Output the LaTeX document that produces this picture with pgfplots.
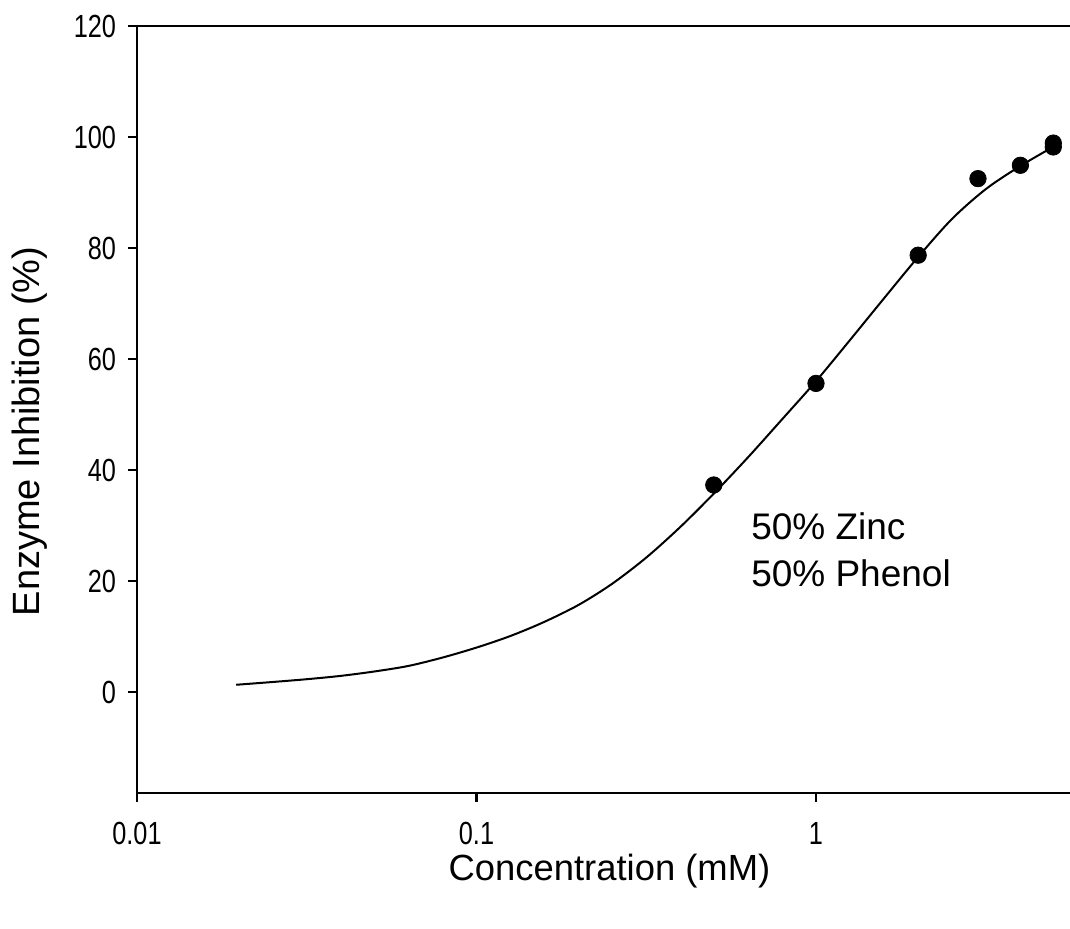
\documentclass[border=0pt]{standalone}
\usepackage{fontspec}
\setmainfont{Liberation Sans}
\newfontfamily\ticfont[FakeStretch=0.79]{Liberation Sans}
\usepackage{pgfplots}
\pgfplotsset{compat=1.18}
\begin{document}
\begin{tikzpicture}
\begin{axis}[
  scale only axis,
  width=466.5pt, height=383.5pt,
  xmode=log,
  xmin=0.01, xmax=5.6,
  ymin=-18.2, ymax=120,
  axis lines=left,
  axis line style={-, line width=1.2pt},
  tick style={line width=1.1pt, black},
  tick align=outside,
  major tick length=4.5pt,
  xminorticks=false,
  xtick={0.01,0.1,1},
  xticklabels={0.01,0.1,1},
  ytick={0,20,40,60,80,100,120},
  /pgf/number format/assume math mode=true,
  ticklabel style={font=\ticfont\fontsize{16}{16}\selectfont},
  xticklabel style={yshift=-6.5pt},
  yticklabel style={xshift=-2.5pt},
  xlabel={Concentration (mM)},
  ylabel={Enzyme Inhibition (\%)},
  xlabel style={font=\fontsize{18.2}{18.2}\selectfont, at={([xshift=3pt,yshift=-44pt]axis description cs:0.5,0)}, anchor=base},
  ylabel style={font=\fontsize{19}{19}\selectfont, at={([xshift=-48.5pt,yshift=-11pt]axis description cs:0,0.5)}, rotate=0, anchor=base},
  clip=false,
]
\addplot[black, line width=1pt, smooth, no marks] coordinates {
  (0.0196,1.3) (0.0251,1.8) (0.0316,2.3) (0.0398,2.9) (0.0501,3.7)
  (0.0631,4.7) (0.0794,6.2) (0.1,8.0) (0.126,10.1) (0.158,12.6)
  (0.2,15.7) (0.251,19.5) (0.316,24.2) (0.398,29.7) (0.501,35.8)
  (0.631,42.3) (0.794,49.1) (1.0,56.0) (1.259,63.4) (1.585,70.9)
  (1.995,78.3) (2.512,85.2) (3.162,90.6) (3.981,94.7) (4.99,98.2)
};
\addplot[only marks, mark=*, mark size=4.1pt, black] coordinates {
  (0.5,37.3) (1,55.6) (2,78.7) (3,92.5) (4,94.9) (5,98.2) (5,98.9)
};
\draw[line width=1.2pt] (rel axis cs:0,1) -- (rel axis cs:1,1);
\node[anchor=base west, font=\fontsize{18.5}{18.5}\selectfont, inner sep=0pt] at (axis cs:0.643,27.4) {50\% Zinc};
\node[anchor=base west, font=\fontsize{18.5}{18.5}\selectfont, inner sep=0pt] at (axis cs:0.643,19.0) {50\% Phenol};
\end{axis}
\pgfresetboundingbox
\path (-68.5pt,-68pt) rectangle (466.5pt,396.5pt);
\end{tikzpicture}
\end{document}
